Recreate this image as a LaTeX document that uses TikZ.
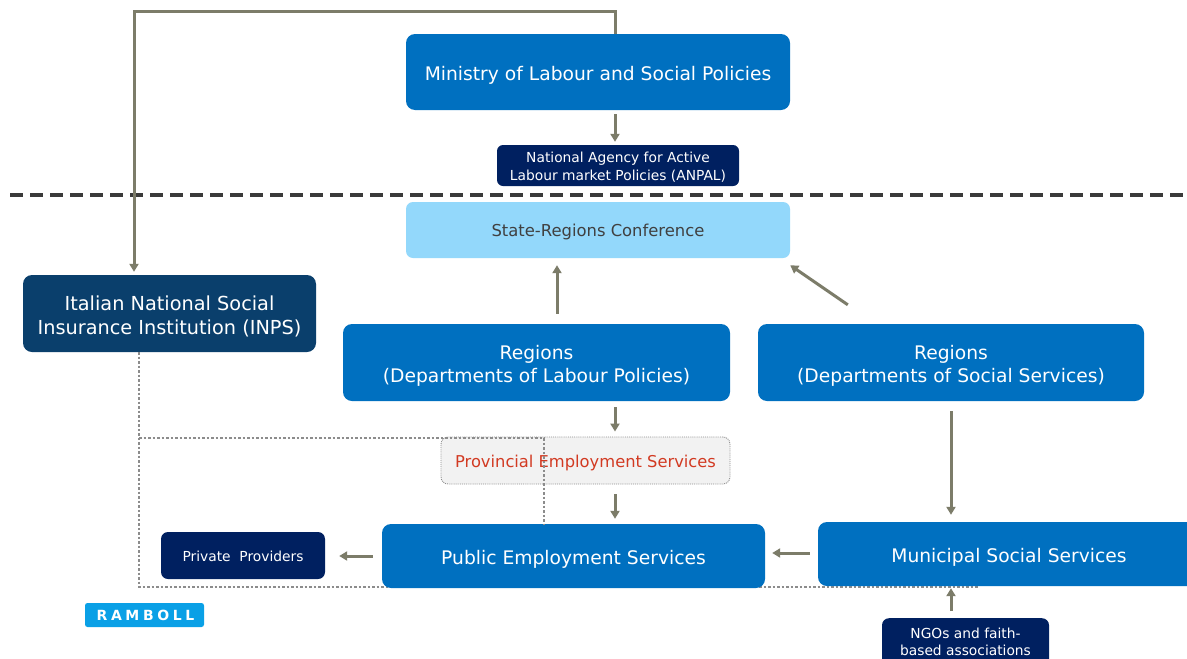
\documentclass[tikz,border=0pt]{standalone}
\usepackage{fontspec}
\setmainfont{DejaVu Sans}
\usetikzlibrary{arrows.meta}
\definecolor{midblue}{HTML}{0070C0}
\definecolor{inpsblue}{HTML}{0A3F6C}
\definecolor{navy}{HTML}{002060}
\definecolor{lightblue}{HTML}{93D8FB}
\definecolor{arrowgray}{HTML}{7C7C69}
\definecolor{sepgray}{HTML}{3A3A3A}
\definecolor{dotgray}{HTML}{8C8C8C}
\definecolor{provred}{HTML}{D23A22}
\definecolor{provfill}{HTML}{F2F2F2}
\definecolor{rambollblue}{HTML}{0AA0E6}
\definecolor{darktext}{HTML}{404040}
\tikzset{
  box/.style={rounded corners=9pt, inner sep=0pt, draw=none},
  lab/.style={inner sep=0pt, align=center, text=white},
  arr/.style={draw=arrowgray, line width=3pt, -{Triangle[length=8pt,width=9pt]}},
  dotline/.style={draw=dotgray, line width=1.1pt, dash pattern=on 2.5pt off 2pt},
  sepline/.style={draw=sepgray, line width=3.5pt, dash pattern=on 13pt off 7pt},
  bigfont/.style={font=\fontsize{18.7}{23.5}\selectfont},
  smallfont/.style={font=\fontsize{13.8}{17.5}\selectfont}
}
\begin{document}
\begin{tikzpicture}[x=1pt,y=-1pt]
\clip (0,0) rectangle (1187,659);
\fill[white] (0,0) rectangle (1187,659);

% separator
\coordinate (sepL) at (10,195);
\coordinate (sepR) at (1187,195);
\draw[sepline] (sepL) -- (sepR);

% boxes
\node[box, fill=midblue, minimum width=384pt, minimum height=76pt] (min) at (598,72) {};
\node[lab, bigfont] (minT) at ([yshift=-3pt]min.center) {Ministry of Labour and Social Policies};

\node[box, fill=navy, rounded corners=6pt, minimum width=242pt, minimum height=41pt] (anpal) at (618,165.5) {};
\node[lab, smallfont] (anpalT) at ([yshift=-1.5pt]anpal.center) {National Agency for Active\\Labour market Policies (ANPAL)};

\node[box, fill=lightblue, rounded corners=7pt, minimum width=384pt, minimum height=56pt] (src) at (598,230) {};
\node[lab, font=\fontsize{16.4}{20}\selectfont, text=darktext] (srcT) at ([yshift=-2pt]src.center) {State-Regions Conference};

\node[box, fill=inpsblue, minimum width=293pt, minimum height=77pt] (inps) at (169.5,313.5) {};
\node[lab, font=\fontsize{19.3}{24}\selectfont] (inpsT) at ([yshift=-3pt]inps.center) {Italian National Social\\Insurance Institution (INPS)};

\node[box, fill=midblue, minimum width=387pt, minimum height=77pt] (rl) at (536.5,362.5) {};
\node[lab, bigfont] (rlT) at ([yshift=-3.5pt]rl.center) {Regions\\(Departments of Labour Policies)};

\node[box, fill=midblue, minimum width=386pt, minimum height=77pt] (rs) at (951,362.5) {};
\node[lab, bigfont] (rsT) at ([yshift=-3.5pt]rs.center) {Regions\\(Departments of Social Services)};

% bottom dotted frame (behind boxes)
\coordinate (d3) at (139,587);
\coordinate (d4) at (978,587);
\draw[dotline] ([xshift=-30.5pt]inps.south) -- (d3) -- (d4);

\node[box, fill=provfill, draw=dotgray, densely dotted, line width=0.9pt, rounded corners=7pt, minimum width=289pt, minimum height=47pt] (prov) at (585.5,460.5) {};
\node[lab, font=\fontsize{16.3}{20}\selectfont, text=provred] (provT) at ([yshift=-2pt]prov.center) {Provincial Employment Services};

\node[box, fill=midblue, minimum width=383pt, minimum height=64pt] (pes) at (573.5,556) {};
\node[lab, bigfont] (pesT) at ([yshift=-3pt]pes.center) {Public Employment Services};

\node[box, fill=midblue, minimum width=382pt, minimum height=64pt] (mun) at (1009,554) {};
\node[lab, bigfont] (munT) at ([yshift=-3pt]mun.center) {Municipal Social Services};

\node[box, fill=navy, rounded corners=7pt, minimum width=164pt, minimum height=47pt] (priv) at (243,555.5) {};
\node[lab, smallfont] (privT) at ([yshift=-1pt]priv.center) {Private\ \ Providers};

\node[box, fill=navy, rounded corners=7pt, minimum width=167pt, minimum height=52pt, anchor=north] (ngo) at (965.5,618) {};
\node[lab, font=\fontsize{13.8}{17}\selectfont] (ngoT) at ([yshift=2.5pt]ngo.center) {NGOs and faith-\\based associations};

\node[box, fill=rambollblue, rounded corners=2.5pt, minimum width=119pt, minimum height=24pt] (ramboll) at (144.5,615) {};
\node[lab, font=\fontsize{14}{16}\bfseries\selectfont\addfontfeatures{LetterSpace=26}] (rambollT) at ([xshift=1pt]ramboll.center) {RAMBOLL};

% dotted lines over provincial box
\coordinate (d1) at (139,438);
\coordinate (d2) at (544,438);
\draw[dotline] (d1) -- (d2) -- ([xshift=-29.5pt]pes.north);

% connectors
\coordinate (tl) at (134,11);
\coordinate (tr) at (615,11);
\draw[arr] ([xshift=17pt]min.north) -- (tr) -- (tl) -- ([xshift=-35.5pt,yshift=3pt]inps.north);
\draw[arr] ([xshift=17pt,yshift=-4pt]min.south) -- ([xshift=-3pt,yshift=3pt]anpal.north);
\draw[arr] ([xshift=20.5pt,yshift=10pt]rl.north) -- ([xshift=-41pt,yshift=-7pt]src.south);
\draw[arr] ([xshift=90pt,yshift=19pt]rs.north west) -- ([yshift=-7pt]src.south east);
\draw[arr] ([xshift=78.5pt,yshift=-6pt]rl.south) -- ([xshift=29.5pt,yshift=5pt]prov.north);
\draw[arr] ([xshift=29.5pt,yshift=-10pt]prov.south) -- ([xshift=41.5pt,yshift=5pt]pes.north);
\draw[arr] ([yshift=-10pt]rs.south) -- ([xshift=-58pt,yshift=7pt]mun.north);
\draw[arr] ([xshift=-8pt,yshift=1pt]mun.west) -- ([xshift=7pt,yshift=3pt]pes.east);
\draw[arr] ([xshift=-9pt]pes.west) -- ([xshift=14pt,yshift=-0.5pt]priv.east);
\draw[arr] ([xshift=-14.5pt,yshift=7pt]ngo.north) -- ([xshift=-58pt,yshift=-2pt]mun.south);
\end{tikzpicture}
\end{document}
